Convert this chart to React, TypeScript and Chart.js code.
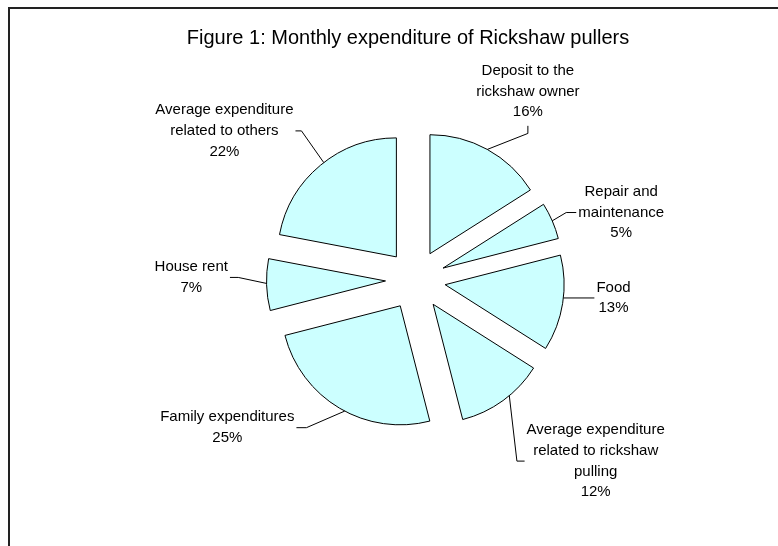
import React, { useEffect, useRef } from 'react';
import { Chart, registerables } from 'chart.js';

Chart.register(...registerables);

// ---- data ----
const categories = [
  'Deposit to the rickshaw owner',
  'Repair and maintenance',
  'Food',
  'Average expenditure related to rickshaw pulling',
  'Family expenditures',
  'House rent',
  'Average expenditure related to others',
];
const labelLines = [
  ['Deposit to the', 'rickshaw owner'],
  ['Repair and', 'maintenance'],
  ['Food'],
  ['Average expenditure', 'related to rickshaw', 'pulling'],
  ['Family expenditures'],
  ['House rent'],
  ['Average expenditure', 'related to others'],
];
const shares = [16, 5, 13, 12, 25, 7, 22];
const titleText = 'Figure 1: Monthly expenditure of Rickshaw pullers';

// ---- layout / style (not data) ----
const EXPLODE = 30;
const FILL = '#CCFFFF';
const LABEL_FONT = '15px "Liberation Sans", Arial, sans-serif';
const TITLE_FONT = '20px "Liberation Sans", Arial, sans-serif';
const LINE_H = 20.7;
// leader-line layout relative to each slice's outer edge
const leaderLayout = [
  { da: 0, dx: 40.6, dy: -16, side: 'up', tick: 7.6 },
  { da: 0, dx: 14, dy: -8.3, side: 'right', tick: 10 },
  { da: -2.6, dx: 31, dy: 0, side: 'right', tick: 0 },
  { da: -3.8, dx: 7.6, dy: 65.4, side: 'right', tick: 7.7 },
  { da: -2.8, dx: -38.3, dy: 16.6, side: 'left', tick: 10 },
  { da: 0.6, dx: -28.3, dy: -6, side: 'left', tick: 8.3 },
  { da: 2, dx: -22.3, dy: -31.7, side: 'left', tick: 6 },
];

export default function App() {
  const ref = useRef<HTMLCanvasElement>(null);

  useEffect(() => {
    const canvas = ref.current!;

    const explodePlugin = {
      id: 'explode',
      beforeDatasetsDraw(chart: any) {
        const meta = chart.getDatasetMeta(0);
        const { left, right, top, bottom } = chart.chartArea;
        const cx = (left + right) / 2;
        const cy = (top + bottom) / 2;
        meta.data.forEach((arc: any) => {
          const mid = (arc.startAngle + arc.endAngle) / 2;
          arc.x = cx + Math.cos(mid) * EXPLODE;
          arc.y = cy + Math.sin(mid) * EXPLODE;
        });
      },
    };

    const labelPlugin = {
      id: 'pieLabels',
      afterDatasetsDraw(chart: any) {
        const ctx = chart.ctx as CanvasRenderingContext2D;
        const meta = chart.getDatasetMeta(0);
        const total = shares.reduce((a, b) => a + b, 0);
        ctx.save();
        ctx.font = LABEL_FONT;
        ctx.fillStyle = '#000';
        ctx.strokeStyle = '#000';
        ctx.lineWidth = 1;
        ctx.textBaseline = 'middle';
        ctx.textAlign = 'center';
        meta.data.forEach((arc: any, i: number) => {
          const lay = leaderLayout[i];
          const ang = (arc.startAngle + arc.endAngle) / 2 + (lay.da * Math.PI) / 180;
          const sx = arc.x + Math.cos(ang) * arc.outerRadius;
          const sy = arc.y + Math.sin(ang) * arc.outerRadius;
          const ex = sx + lay.dx;
          const ey = sy + lay.dy;
          let tx = ex;
          let ty = ey;
          if (lay.side === 'up') ty = ey - lay.tick;
          else if (lay.side === 'right') tx = ex + lay.tick;
          else tx = ex - lay.tick;
          ctx.beginPath();
          ctx.moveTo(sx, sy);
          ctx.lineTo(ex, ey);
          ctx.lineTo(tx, ty);
          ctx.stroke();

          const pct = Math.round((shares[i] / total) * 100) + '%';
          const lines = [...labelLines[i], pct];
          const w = Math.max(...lines.map((l) => ctx.measureText(l).width));
          const n = lines.length;
          let cx = tx;
          let firstY = ty - ((n - 1) / 2) * LINE_H;
          if (lay.side === 'up') {
            firstY = ty - 13.5 - (n - 1) * LINE_H;
          } else if (lay.side === 'right') {
            cx = tx + 2 + w / 2;
          } else {
            cx = tx - 2 - w / 2;
          }
          lines.forEach((l, k) => ctx.fillText(l, cx, firstY + k * LINE_H));
        });
        ctx.restore();
      },
      afterDraw(chart: any) {
        const ctx = chart.ctx as CanvasRenderingContext2D;
        ctx.save();
        ctx.font = TITLE_FONT;
        ctx.fillStyle = '#000';
        ctx.textAlign = 'center';
        ctx.textBaseline = 'middle';
        ctx.fillText(titleText, 408, 38);
        ctx.restore();
      },
    };

    const chart = new Chart(canvas, {
      type: 'pie',
      data: {
        labels: categories,
        datasets: [
          {
            data: shares,
            backgroundColor: FILL,
            borderColor: '#000',
            borderWidth: 1,
            borderJoinStyle: 'miter',
          } as any,
        ],
      },
      options: {
        responsive: false,
        animation: false,
        devicePixelRatio: 1,
        events: [],
        radius: 119,
        layout: { padding: { left: 60, right: 7, top: 20, bottom: 6 } },
        plugins: {
          legend: { display: false },
          tooltip: { enabled: false },
          title: { display: false },
        },
      } as any,
      plugins: [explodePlugin, labelPlugin],
    });
    return () => chart.destroy();
  }, []);

  return (
    <div
      style={{
        position: 'fixed',
        left: 0,
        top: 0,
        width: 778,
        height: 546,
        overflow: 'hidden',
        background: '#fff',
      }}
    >
      <div
        style={{
          position: 'absolute',
          left: 8,
          top: 7,
          width: 820,
          height: 600,
          border: '2px solid #222',
          boxSizing: 'border-box',
        }}
      />
      <canvas
        ref={ref}
        width={778}
        height={546}
        style={{ position: 'absolute', left: 0, top: 0, width: 778, height: 546 }}
      />
    </div>
  );
}
